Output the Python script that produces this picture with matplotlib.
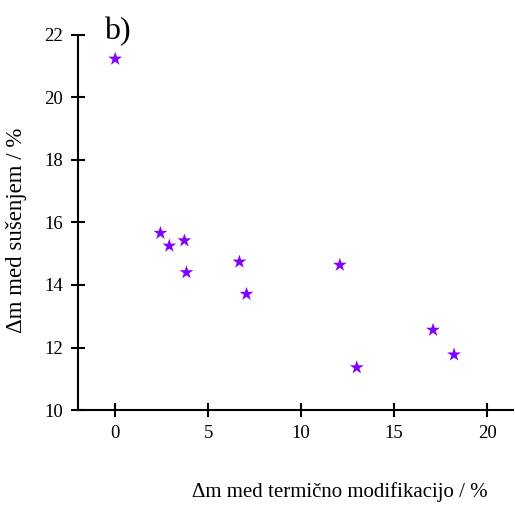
import matplotlib.pyplot as plt

plt.rcParams["font.family"] = ["Liberation Serif", "DejaVu Serif"]

# mass change during thermal modification vs. during drying (%)
dm_modification = [0.0, 2.43, 2.91, 3.72, 3.83, 6.68, 7.06, 12.08, 12.99, 17.09, 18.22]
dm_drying = [21.23, 15.66, 15.25, 15.42, 14.40, 14.74, 13.71, 14.64, 11.36, 12.56, 11.77]

fig = plt.figure(figsize=(5.15, 5.05), dpi=100)
ax = fig.add_axes([0.1515, 0.188, 0.845, 0.743])

ax.scatter(dm_modification, dm_drying, marker="*", s=110, color="#8000ff",
           edgecolors="none", zorder=3)

ax.set_xlim(-2, 21.4)
ax.set_ylim(10, 22)
ax.set_xticks([0, 5, 10, 15, 20])
ax.set_yticks([10, 12, 14, 16, 18, 20, 22])

for side in ("top", "right"):
    ax.spines[side].set_visible(False)
for side in ("left", "bottom"):
    ax.spines[side].set_linewidth(1.5)

ax.tick_params(direction="inout", length=10, width=1.5, labelsize=13.5, pad=6)

ax.set_xlabel("Δm med termično modifikacijo / %", fontsize=15)
ax.xaxis.set_label_coords(0.602, -0.193)
ax.set_ylabel("Δm med sušenjem / %", fontsize=16.5)
ax.yaxis.set_label_coords(-0.118, 0.48)
ax.text(0.06, 1.01, "b)", transform=ax.transAxes, fontsize=23, va="center")

plt.savefig("out.png")
